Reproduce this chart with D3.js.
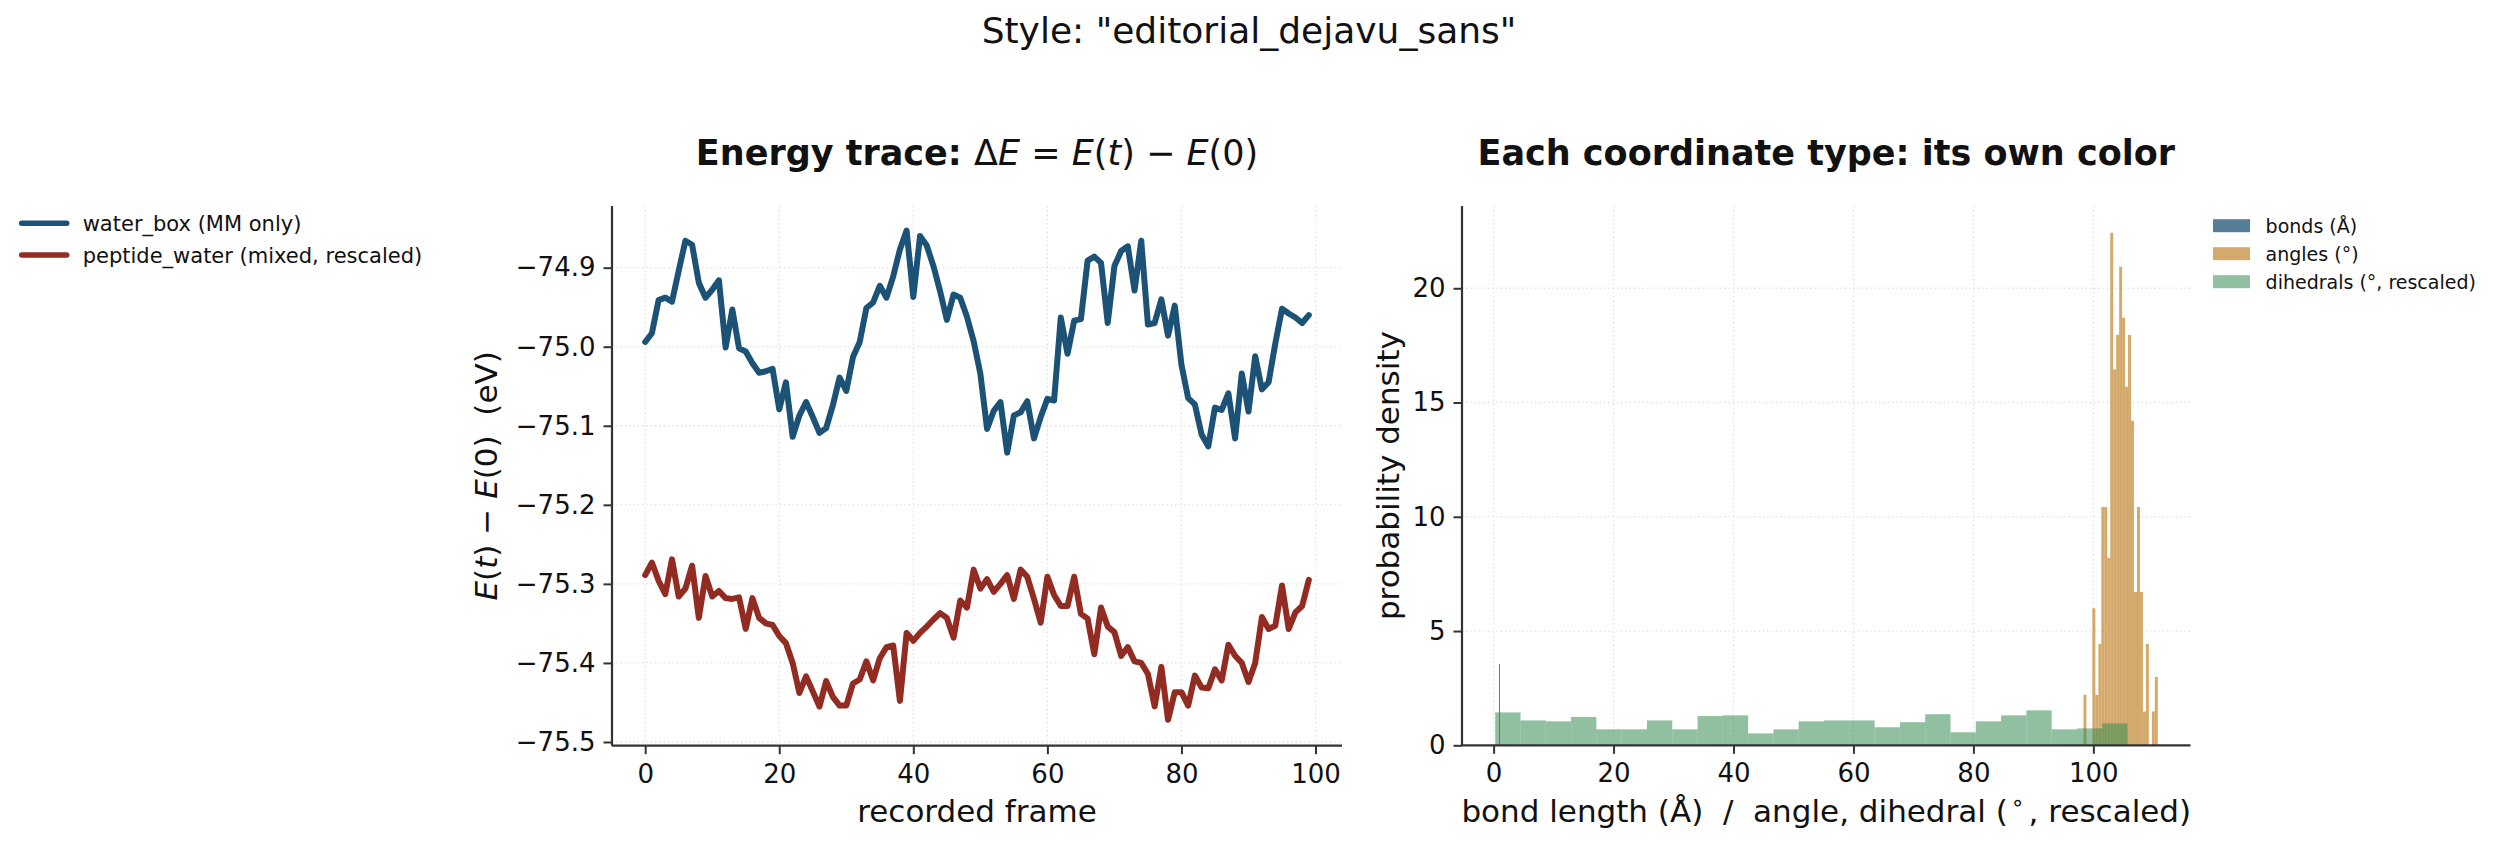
<!DOCTYPE html>
<html>
<head>
<meta charset="utf-8">
<script src="https://cdn.jsdelivr.net/npm/d3@7"></script>
<style>
  body { margin: 0; background: #fff; }
  text { font-family: "DejaVu Sans", sans-serif; fill: #111; white-space: pre; }
</style>
</head>
<body>
<div id="chart"></div>
<script>
// energy traces, one value per recorded frame (eV)
const waterBox = [
  -74.994, -74.983, -74.941, -74.938, -74.943, -74.904, -74.866, -74.871, -74.919, -74.938,
  -74.928, -74.916, -75.001, -74.953, -75.002, -75.006, -75.021, -75.033, -75.031, -75.028,
  -75.079, -75.045, -75.114, -75.087, -75.070, -75.089, -75.109, -75.103, -75.074, -75.039,
  -75.056, -75.013, -74.994, -74.951, -74.944, -74.923, -74.938, -74.911, -74.877, -74.853,
  -74.937, -74.860, -74.872, -74.898, -74.930, -74.966, -74.934, -74.938, -74.962, -74.993,
  -75.034, -75.104, -75.081, -75.070, -75.134, -75.087, -75.083, -75.069, -75.116, -75.089,
  -75.066, -75.068, -74.963, -75.009, -74.967, -74.965, -74.891, -74.886, -74.894, -74.970,
  -74.898, -74.879, -74.873, -74.929, -74.866, -74.972, -74.970, -74.940, -74.986, -74.948,
  -75.023, -75.065, -75.073, -75.111, -75.126, -75.077, -75.080, -75.059, -75.116, -75.034,
  -75.082, -75.012, -75.054, -75.045, -74.996, -74.952, -74.958, -74.963, -74.970, -74.960
];
const peptideWater = [
  -75.289, -75.273, -75.296, -75.313, -75.269, -75.316, -75.306, -75.277, -75.343, -75.290,
  -75.316, -75.309, -75.318, -75.319, -75.317, -75.357, -75.318, -75.343, -75.350, -75.352,
  -75.366, -75.375, -75.400, -75.438, -75.417, -75.436, -75.455, -75.423, -75.443, -75.454,
  -75.454, -75.426, -75.421, -75.398, -75.422, -75.394, -75.380, -75.378, -75.448, -75.362,
  -75.372, -75.362, -75.354, -75.345, -75.337, -75.343, -75.368, -75.321, -75.330, -75.282,
  -75.306, -75.294, -75.310, -75.300, -75.289, -75.319, -75.282, -75.291, -75.319, -75.349,
  -75.291, -75.314, -75.328, -75.328, -75.291, -75.338, -75.344, -75.389, -75.330, -75.354,
  -75.361, -75.391, -75.380, -75.398, -75.400, -75.414, -75.455, -75.405, -75.472, -75.437,
  -75.437, -75.454, -75.416, -75.431, -75.432, -75.408, -75.422, -75.377, -75.391, -75.400,
  -75.424, -75.400, -75.342, -75.357, -75.353, -75.302, -75.357, -75.336, -75.328, -75.295
];
const traceNames = ["water_box (MM only)", "peptide_water (mixed, rescaled)"];

// histograms: [lo, hi] range of the bins and the density of each bin
const bondRange = [0.90, 0.96];
const bondDensity = [3.56];
const angleRange = [98.35, 110.75];
const angleDensity = [
  2.21, 0, 0, 6.0, 2.2, 4.44, 10.43, 10.43, 8.2, 22.43, 16.45, 17.96, 20.94,
  18.71, 15.69, 17.96, 14.2, 6.71, 10.43, 6.71, 1.48, 4.44, 0, 1.48, 2.99
];
const dihedralRange = [0.27, 105.7];
const dihedralDensity = [
  1.44, 1.09, 1.05, 1.24, 0.70, 0.70, 1.09, 0.70, 1.28, 1.31, 0.52, 0.70, 1.05,
  1.09, 1.09, 0.79, 1.01, 1.36, 0.57, 1.05, 1.31, 1.53, 0.70, 0.74, 0.96
];
const histNames = ["bonds (Å)", "angles (°)", "dihedrals (°, rescaled)"];

const xTicksLeft = [0, 20, 40, 60, 80, 100];
const yTicksLeft = [-75.5, -75.4, -75.3, -75.2, -75.1, -75.0, -74.9];
const xTicksRight = [0, 20, 40, 60, 80, 100];
const yTicksRight = [0, 5, 10, 15, 20];

const W = 2498, H = 848;
const lineColors = ["#1b5276", "#922b21"];
const histColors = ["#1b5276", "#c68e3b", "#348c52"];
const histAlpha = [0.75, 0.75, 0.55];
const ink = "#333";

const svg = d3.select("#chart").append("svg")
  .attr("width", W).attr("height", H);

svg.append("text")
  .attr("x", W / 2).attr("y", 43)
  .attr("text-anchor", "middle")
  .style("font-size", "36px")
  .text('Style: "editorial_dejavu_sans"');

function binsOf(range, dens) {
  const w = (range[1] - range[0]) / dens.length;
  return dens.map((d, i) => ({ x0: range[0] + i * w, x1: range[0] + (i + 1) * w, h: d }));
}

function styleAxis(g) {
  g.select(".domain").remove();
  g.selectAll(".tick line").attr("stroke", ink).attr("stroke-width", 2);
  g.selectAll(".tick text").style("font-size", "26px").attr("fill", "#111")
    .style("font-family", '"DejaVu Sans", sans-serif');
}

function grid(g, x, y, xt, yt, iw, ih) {
  g.append("g").selectAll("line").data(xt).join("line")
    .attr("x1", d => x(d)).attr("x2", d => x(d)).attr("y1", 0).attr("y2", ih)
    .attr("stroke", "#dedede").attr("stroke-width", 1.3).attr("stroke-dasharray", "1.3,3");
  g.append("g").selectAll("line").data(yt).join("line")
    .attr("y1", d => y(d)).attr("y2", d => y(d)).attr("x1", 0).attr("x2", iw)
    .attr("stroke", "#dedede").attr("stroke-width", 1.3).attr("stroke-dasharray", "1.3,3");
}

function spines(g, x, y, xt, yt, fmtY, iw, ih) {
  g.append("g").attr("transform", `translate(0,${ih})`)
    .call(d3.axisBottom(x).tickValues(xt).tickSize(8.5).tickPadding(10).tickFormat(d3.format("d")))
    .call(styleAxis);
  g.append("g")
    .call(d3.axisLeft(y).tickValues(yt).tickSize(8.5).tickPadding(8).tickFormat(fmtY))
    .call(styleAxis);
  g.append("line").attr("x1", 0).attr("x2", 0).attr("y1", 0).attr("y2", ih)
    .attr("stroke", ink).attr("stroke-width", 2.2);
  g.append("line").attr("x1", 0).attr("x2", iw).attr("y1", ih).attr("y2", ih)
    .attr("stroke", ink).attr("stroke-width", 2.2);
}

// ---- left panel: energy traces
{
  const left = 612, top = 206, iw = 730, ih = 539.7;
  const g = svg.append("g").attr("transform", `translate(${left},${top})`);
  const x = d3.scaleLinear().domain([-4.95, 103.95]).range([0, iw]);
  const y = d3.scaleLinear().domain([-75.5047, -74.822]).range([ih, 0]);
  grid(g, x, y, xTicksLeft, yTicksLeft, iw, ih);

  const line = d3.line().x((d, i) => x(i)).y(d => y(d));
  [waterBox, peptideWater].forEach((s, k) => {
    g.append("path").datum(s)
      .attr("d", line)
      .attr("fill", "none")
      .attr("stroke", lineColors[k])
      .attr("stroke-width", 6)
      .attr("stroke-linejoin", "round")
      .attr("stroke-linecap", "round");
  });
  spines(g, x, y, xTicksLeft, yTicksLeft, d3.format(".1f"), iw, ih);

  const t = svg.append("text").attr("x", left + iw / 2).attr("y", 165)
    .attr("text-anchor", "middle").style("font-size", "35px");
  t.append("tspan").style("font-weight", "bold").text("Energy trace: ");
  t.append("tspan").text("Δ");
  t.append("tspan").style("font-style", "italic").text("E");
  t.append("tspan").text(" = ");
  t.append("tspan").style("font-style", "italic").text("E");
  t.append("tspan").text("(");
  t.append("tspan").style("font-style", "italic").text("t");
  t.append("tspan").text(") − ");
  t.append("tspan").style("font-style", "italic").text("E");
  t.append("tspan").text("(0)");

  svg.append("text").attr("x", left + iw / 2).attr("y", 822)
    .attr("text-anchor", "middle").style("font-size", "31px").text("recorded frame");

  const yl = svg.append("text")
    .attr("transform", `translate(497,${top + ih / 2}) rotate(-90)`)
    .attr("text-anchor", "middle").style("font-size", "31px");
  yl.append("tspan").style("font-style", "italic").text("E");
  yl.append("tspan").text("(");
  yl.append("tspan").style("font-style", "italic").text("t");
  yl.append("tspan").text(") − ");
  yl.append("tspan").style("font-style", "italic").text("E");
  yl.append("tspan").text("(0)  (eV)");
}

// ---- right panel: coordinate histograms
{
  const left = 1462, top = 206, iw = 728.5, ih = 539.3;
  const g = svg.append("g").attr("transform", `translate(${left},${top})`);
  const x = d3.scaleLinear().domain([-5.27, 116.2]).range([0, iw]);
  const y = d3.scaleLinear().domain([0, 23.6]).range([ih, 0]);
  grid(g, x, y, xTicksRight, yTicksRight, iw, ih);

  const sets = [binsOf(bondRange, bondDensity), binsOf(angleRange, angleDensity), binsOf(dihedralRange, dihedralDensity)];
  sets.forEach((bins, k) => {
    g.append("g").selectAll("rect").data(bins.filter(b => b.h > 0)).join("rect")
      .attr("x", b => x(b.x0))
      .attr("width", b => Math.max(1, x(b.x1) - x(b.x0)))
      .attr("y", b => y(b.h))
      .attr("height", b => y(0) - y(b.h))
      .attr("fill", histColors[k])
      .attr("fill-opacity", histAlpha[k]);
  });
  spines(g, x, y, xTicksRight, yTicksRight, d3.format("d"), iw, ih);

  svg.append("text").attr("x", left + iw / 2).attr("y", 165)
    .attr("text-anchor", "middle").style("font-size", "35px").style("font-weight", "bold")
    .text("Each coordinate type: its own color");

  const xl = svg.append("text").attr("x", left + iw / 2).attr("y", 822)
    .attr("text-anchor", "middle").style("font-size", "31px");
  xl.append("tspan").text("bond length (Å)  /  angle, dihedral (");
  xl.append("tspan").attr("dx", 3).attr("dy", -12).style("font-size", "22px").text("∘");
  xl.append("tspan").attr("dx", 4).attr("dy", 12).text(", rescaled)");

  svg.append("text")
    .attr("transform", `translate(1399,${top + ih / 2}) rotate(-90)`)
    .attr("text-anchor", "middle").style("font-size", "31px").text("probability density");

  // legend
  const lg = svg.append("g");
  histNames.forEach((n, k) => {
    const cy = 225.7 + k * 28;
    lg.append("rect").attr("x", 2213).attr("y", cy - 6.5).attr("width", 37).attr("height", 13)
      .attr("fill", histColors[k]).attr("fill-opacity", histAlpha[k]);
    lg.append("text").attr("x", 2265.6).attr("y", cy).attr("dy", "0.36em")
      .style("font-size", "19px").text(n);
  });
}

// ---- legend for the traces, left of the figure
{
  const lg = svg.append("g");
  traceNames.forEach((n, k) => {
    const cy = 223.3 + k * 31.7;
    lg.append("line").attr("x1", 21.7).attr("x2", 66.7).attr("y1", cy).attr("y2", cy)
      .attr("stroke", lineColors[k]).attr("stroke-width", 5.5).attr("stroke-linecap", "round");
    lg.append("text").attr("x", 82.7).attr("y", cy).attr("dy", "0.36em")
      .style("font-size", "21px").text(n);
  });
}
</script>
</body>
</html>
